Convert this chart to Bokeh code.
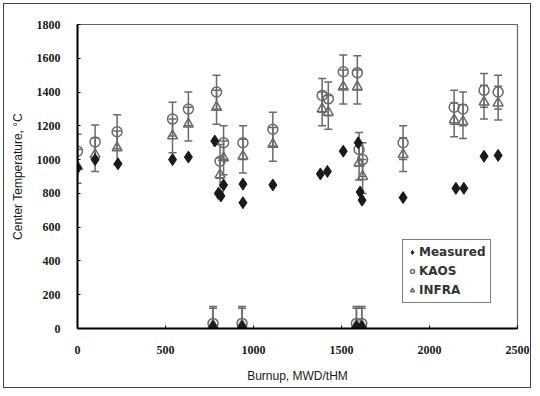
from bokeh.plotting import figure
from bokeh.models import ColumnDataSource, Whisker, TeeHead, Range1d, FixedTicker, Legend
from bokeh.embed import file_html
from bokeh.resources import INLINE

# ---- data ----
meas_burnup = [0, 100, 230, 540, 630, 780, 800, 815, 830, 940, 940, 1110,
               1380, 1420, 1510, 1595, 1606, 1617, 1850, 2150, 2195, 2310, 2390,
               770, 935, 1585, 1615]
meas_temp = [950, 1000, 975, 1000, 1015, 1110, 800, 785, 850, 855, 745, 850,
             915, 930, 1050, 1100, 808, 760, 775, 830, 830, 1020, 1025,
             10, 10, 10, 10]

calc_burnup = [0, 100, 225, 540, 630, 790, 810, 830, 940, 1110,
               1390, 1425, 1510, 1590, 1600, 1620, 1850, 2140, 2190, 2310, 2390,
               770, 935, 1585, 1615]
kaos_temp = [1050, 1105, 1165, 1240, 1300, 1400, 990, 1100, 1100, 1180,
             1380, 1360, 1520, 1515, 1060, 1000, 1100, 1310, 1300, 1410, 1400,
             30, 30, 30, 30]
infra_temp = [960, 1030, 1070, 1140, 1210, 1310, 910, 1010, 1020, 1090,
              1300, 1280, 1430, 1430, 980, 900, 1030, 1235, 1225, 1340, 1335,
              20, 20, 20, 20]
calc_error = 100

x_ticks = [0, 500, 1000, 1500, 2000, 2500]
y_ticks = [0, 200, 400, 600, 800, 1000, 1200, 1400, 1600, 1800]

# ---- figure ----
p = figure(width=528, height=385, output_backend="svg", toolbar_location=None,
           x_range=Range1d(0, 2500), y_range=Range1d(0, 1800),
           min_border_left=73, min_border_right=15, min_border_top=20, min_border_bottom=61)
p.styles = {"border": "1px solid #444", "margin": "3px 0 0 3px"}

p.background_fill_color = "white"
p.border_fill_color = "white"
p.outline_line_color = "#666666"
p.outline_line_width = 1.2
p.xgrid.visible = False
p.ygrid.visible = False

for ax in (p.xaxis[0], p.yaxis[0]):
    ax.axis_line_color = "black"
    ax.axis_line_width = 2
    ax.major_tick_in = 3
    ax.major_tick_out = 0
    ax.minor_tick_line_color = None
    ax.major_tick_line_color = "black"
    ax.major_label_text_font = "Liberation Serif"
    ax.major_label_text_font_style = "bold"
    ax.major_label_text_font_size = "12px"
    ax.major_label_text_color = "#1a1a1a"
    ax.axis_label_text_font = "Liberation Sans"
    ax.axis_label_text_font_style = "normal"
    ax.axis_label_text_font_size = "12px"
    ax.axis_label_text_color = "#1a1a1a"

p.xaxis.ticker = FixedTicker(ticks=x_ticks)
p.yaxis.ticker = FixedTicker(ticks=y_ticks)
p.xaxis.major_label_standoff = 17
p.yaxis.major_label_standoff = 17
p.xaxis.axis_label = "Burnup, MWD/tHM"
p.yaxis.axis_label = "Center Temperature, °C"
p.xaxis.axis_label_standoff = 12
p.yaxis.axis_label_standoff = 9

grey = "#6a6a6a"

ksrc = ColumnDataSource(dict(x=calc_burnup, y=kaos_temp,
                             lo=[v - calc_error for v in kaos_temp],
                             hi=[v + calc_error for v in kaos_temp]))
isrc = ColumnDataSource(dict(x=calc_burnup, y=infra_temp,
                             lo=[v - calc_error for v in infra_temp],
                             hi=[v + calc_error for v in infra_temp]))
msrc = ColumnDataSource(dict(x=meas_burnup, y=meas_temp))

for src in (isrc, ksrc):
    w = Whisker(base="x", upper="hi", lower="lo", source=src,
                line_color=grey, line_width=1.5,
                upper_head=TeeHead(size=8, line_color=grey, line_width=1.5),
                lower_head=TeeHead(size=8, line_color=grey, line_width=1.5))
    p.add_layout(w)

r_infra = p.scatter("x", "y", source=isrc, marker="triangle", size=10,
                    line_color=grey, line_width=1.5, fill_color=None)
r_kaos = p.scatter("x", "y", source=ksrc, marker="circle", size=10,
                   line_color=grey, line_width=1.5, fill_color=None)
r_meas = p.scatter("x", "y", source=msrc, marker="diamond", size=12,
                   line_color="#1a1a1a", fill_color="#1a1a1a")

legend = Legend(items=[("Measured", [r_meas]), ("KAOS", [r_kaos]), ("INFRA", [r_infra])],
                location=(325, 25))
legend.border_line_color = "black"
legend.border_line_width = 1.5
legend.background_fill_color = "white"
legend.label_text_font = "DejaVu Sans"
legend.label_text_font_style = "bold"
legend.label_text_font_size = "12px"
legend.label_text_color = "#333333"
legend.glyph_width = 10
legend.glyph_height = 16
legend.label_height = 16
legend.label_standoff = 2
legend.spacing = 3
legend.padding = 4
legend.margin = 0
p.add_layout(legend)

open("out.html", "w").write(file_html(p, INLINE))
